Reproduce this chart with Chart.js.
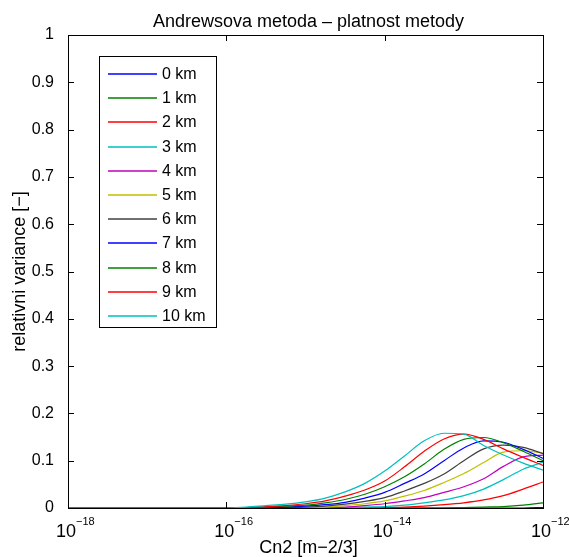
<!DOCTYPE html>
<html>
<head>
<meta charset="utf-8">
<script src="https://cdn.jsdelivr.net/npm/chart.js@4/dist/chart.umd.min.js"></script>
<style>
  html, body { margin: 0; padding: 0; background: #fff; }
  canvas { display: block; }
</style>
</head>
<body>
<canvas id="grafica" width="569" height="557"></canvas>
<script>
// Cn2 values (x axis, log scale)
const cn2 = [1e-18, 1e-17, 1e-16, 1.78e-16, 3.16e-16, 5.62e-16, 1e-15, 1.78e-15, 3.16e-15, 5.62e-15,
             1e-14, 1.78e-14, 3.16e-14, 5.62e-14, 1e-13, 1.78e-13, 3.16e-13, 5.62e-13, 1e-12];

// relative variance for each altitude
const km0  = [0, 0, 0, 0, 0, 0, 0, 0, 0, 0, 0, 0, 0, 0, 0, 0, 0, 0, 0.001];
const km1  = [0, 0, 0, 0, 0, 0, 0, 0, 0, 0, 0, 0, 0, 0, 0.001, 0.002, 0.003, 0.006, 0.011];
const km2  = [0, 0, 0, 0, 0, 0, 0, 0, 0, 0, 0.001, 0.002, 0.004, 0.007, 0.011, 0.017, 0.026, 0.04, 0.055];
const km3  = [0, 0, 0, 0, 0, 0, 0, 0, 0.001, 0.002, 0.003, 0.006, 0.011, 0.017, 0.026, 0.04, 0.06, 0.082, 0.097];
const km4  = [0, 0, 0, 0, 0, 0, 0.001, 0.001, 0.002, 0.005, 0.009, 0.015, 0.022, 0.033, 0.045, 0.062, 0.088, 0.108, 0.112];
const km5  = [0, 0, 0, 0, 0, 0.001, 0.001, 0.002, 0.005, 0.009, 0.015, 0.025, 0.037, 0.054, 0.073, 0.096, 0.118, 0.121, 0.116];
const km6  = [0, 0, 0, 0, 0.001, 0.001, 0.002, 0.004, 0.008, 0.014, 0.022, 0.036, 0.052, 0.072, 0.1, 0.125, 0.133, 0.128, 0.115];
const km7  = [0, 0, 0, 0, 0.001, 0.002, 0.004, 0.007, 0.012, 0.021, 0.033, 0.052, 0.072, 0.1, 0.127, 0.142, 0.139, 0.124, 0.105];
const km8  = [0, 0, 0, 0.001, 0.002, 0.004, 0.006, 0.011, 0.018, 0.029, 0.045, 0.066, 0.093, 0.124, 0.145, 0.149, 0.138, 0.12, 0.1];
const km9  = [0, 0, 0, 0.001, 0.003, 0.005, 0.009, 0.015, 0.025, 0.038, 0.057, 0.087, 0.12, 0.146, 0.156, 0.145, 0.125, 0.107, 0.09];
const km10 = [0, 0, 0, 0.002, 0.005, 0.008, 0.013, 0.021, 0.034, 0.052, 0.078, 0.11, 0.142, 0.158, 0.156, 0.132, 0.112, 0.095, 0.08];

const serie = [km0, km1, km2, km3, km4, km5, km6, km7, km8, km9, km10];
const nazvy = ['0 km', '1 km', '2 km', '3 km', '4 km', '5 km', '6 km', '7 km', '8 km', '9 km', '10 km'];
const barvy = ['#0000ff', '#008000', '#ff0000', '#00bfbf', '#bf00bf', '#bfbf00', '#404040',
               '#0000ff', '#008000', '#ff0000', '#00bfbf'];

const xTicks = [1e-18, 1e-16, 1e-14, 1e-12];
const xTickExp = ['\u221218', '\u221216', '\u221214', '\u221212'];

const titulek = 'Andrewsova metoda \u2013 platnost metody';
const popisX = 'Cn2 [m\u22122/3]';
const popisY = 'relativni variance [\u2212]';

const FONT = '"Liberation Sans", Arial, sans-serif';

const matlabOsy = {
    id: 'matlabOsy',
    afterDatasetsDraw(chart) {
        const { ctx, chartArea: a } = chart;
        const xs = chart.scales.x, ys = chart.scales.y;
        ctx.save();
        ctx.strokeStyle = '#000';
        ctx.lineWidth = 1;
        ctx.strokeRect(Math.round(a.left) + 0.5, Math.round(a.top) + 0.5,
                       Math.round(a.right - a.left), Math.round(a.bottom - a.top));
        ctx.beginPath();
        // x ticks inward, bottom and top
        xTicks.forEach(v => {
            const px = Math.round(xs.getPixelForValue(v)) + 0.5;
            ctx.moveTo(px, a.bottom); ctx.lineTo(px, a.bottom - 6);
            ctx.moveTo(px, a.top); ctx.lineTo(px, a.top + 6);
        });
        // y ticks inward, left and right
        ys.ticks.forEach(t => {
            const py = Math.round(ys.getPixelForValue(t.value)) + 0.5;
            ctx.moveTo(a.left, py); ctx.lineTo(a.left + 6, py);
            ctx.moveTo(a.right, py); ctx.lineTo(a.right - 6, py);
        });
        ctx.stroke();

        // legend box
        const lx = 99.5, ly = 56.5, lw = 117, lh = 271;
        ctx.fillStyle = '#fff';
        ctx.fillRect(lx, ly, lw, lh);
        ctx.strokeRect(lx, ly, lw, lh);
        ctx.font = '16px ' + FONT;
        ctx.textBaseline = 'middle';
        ctx.textAlign = 'left';
        chart.data.datasets.forEach((ds, i) => {
            const y = Math.round(74 + i * 24.2);
            ctx.strokeStyle = ds.borderColor;
            ctx.lineWidth = 1.5;
            ctx.beginPath();
            ctx.moveTo(108, y); ctx.lineTo(157, y);
            ctx.stroke();
            ctx.fillStyle = '#000';
            ctx.fillText(ds.label, 162, y + 1);
        });
        ctx.restore();
    },
    afterDraw(chart) {
        const { ctx, chartArea: a } = chart;
        const xs = chart.scales.x;
        ctx.save();
        ctx.fillStyle = '#000';
        ctx.textBaseline = 'alphabetic';

        // title
        ctx.font = '18px ' + FONT;
        ctx.textAlign = 'center';
        ctx.fillText(titulek, (a.left + a.right) / 2 + 3, 27);

        // x tick labels 10^n
        xTicks.forEach((v, i) => {
            const px = xs.getPixelForValue(v);
            ctx.font = '18px ' + FONT;
            ctx.textAlign = 'center';
            ctx.fillText('10', px - 2, 537);
            const w = ctx.measureText('10').width;
            ctx.font = '11px ' + FONT;
            ctx.textAlign = 'left';
            ctx.fillText(xTickExp[i], px - 2 + w / 2, 525);
        });

        // x axis label
        ctx.font = '18px ' + FONT;
        ctx.textAlign = 'center';
        ctx.fillText(popisX, (a.left + a.right) / 2 + 3, 553);

        // y axis label
        ctx.translate(25, (a.top + a.bottom) / 2);
        ctx.rotate(-Math.PI / 2);
        ctx.fillText(popisY, 0, 0);
        ctx.restore();
    }
};

const datasets = serie.map((data, i) => ({
    label: nazvy[i],
    data,
    borderColor: barvy[i],
    backgroundColor: barvy[i],
    borderWidth: 1.2,
    pointRadius: 0,
    tension: 0.3,
    cubicInterpolationMode: 'monotone',
    fill: false,
    order: serie.length - i
}));

new Chart(document.getElementById('grafica').getContext('2d'), {
    type: 'line',
    data: { labels: cn2, datasets },
    options: {
        responsive: false,
        animation: false,
        devicePixelRatio: 1,
        layout: { padding: { top: 35, right: 26, left: 0, bottom: 0 } },
        plugins: { legend: { display: false }, title: { display: false }, tooltip: { enabled: false } },
        scales: {
            x: {
                type: 'logarithmic',
                min: 1e-18,
                max: 1e-12,
                afterBuildTicks: s => { s.ticks = xTicks.map(v => ({ value: v })); },
                afterFit: s => { s.height = 49; },
                ticks: { display: false },
                grid: { display: false },
                border: { display: false }
            },
            y: {
                min: 0,
                max: 1,
                afterFit: s => { s.width = 68; },
                ticks: {
                    stepSize: 0.1,
                    color: '#000',
                    padding: 6,
                    font: { size: 16, family: FONT },
                    callback: v => String(Number(v.toFixed(1)))
                },
                grid: { display: false },
                border: { display: false }
            }
        }
    },
    plugins: [matlabOsy]
});
</script>
</body>
</html>
